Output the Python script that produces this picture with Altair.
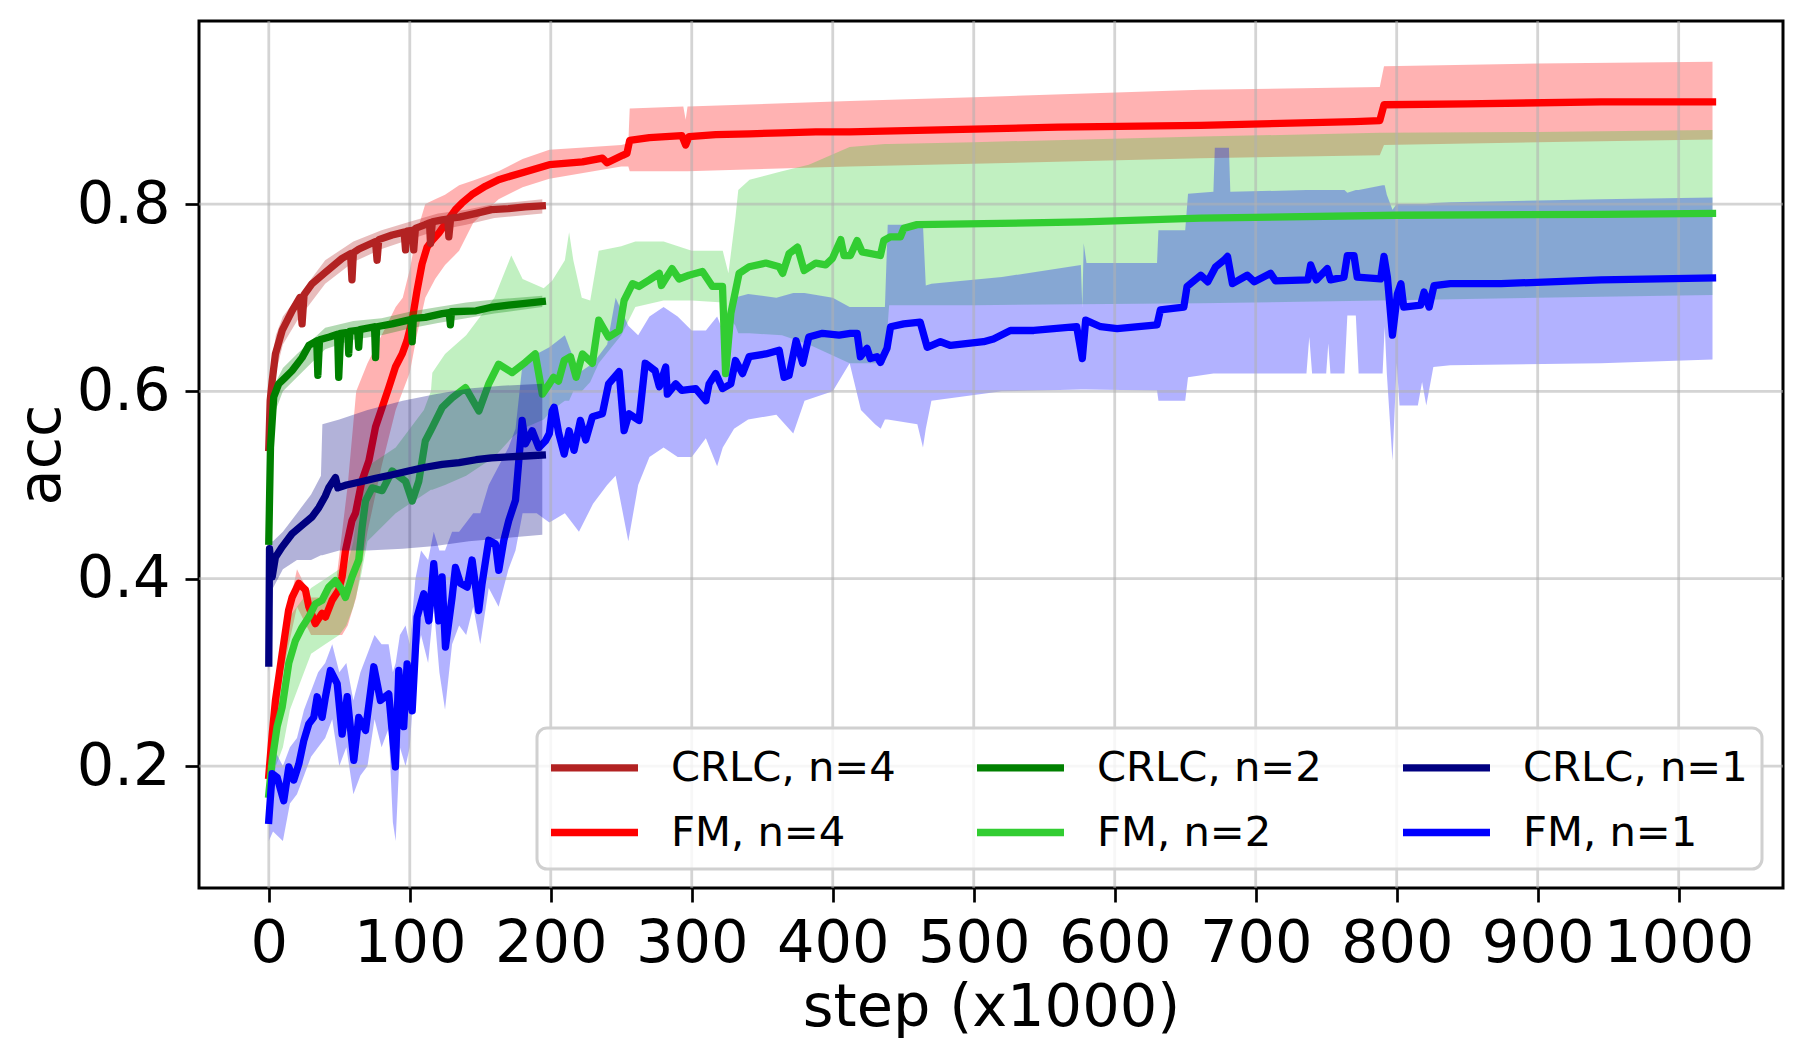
import altair as alt
import pandas as pd

# ---------------- data ----------------
# legend order (column-major fill): col1 n=4, col2 n=2, col3 n=1
SERIES = ["CRLC, n=4", "FM, n=4", "CRLC, n=2", "FM, n=2", "CRLC, n=1", "FM, n=1"]
COLORS = ["#b22222", "#ff0000", "#008000", "#32cd32", "#000080", "#0000ff"]
XTICKS = [0, 100, 200, 300, 400, 500, 600, 700, 800, 900, 1000]
YTICKS = [0.2, 0.4, 0.6, 0.8]

# FM, n=4 (mean line)
FM4_X = [0, 2.4, 4.7, 9.5, 14, 16.5, 21.3, 26, 28.4, 33, 37.8, 40.2, 44.9, 49.6, 52, 54.4, 59, 61.5, 66, 71,
         75.7, 80.4, 85.1, 89.8, 94.6, 98, 101.7, 105.2, 108.7, 112.3, 115.8, 120.6, 125.3, 132.4, 137, 144,
         153.7, 163, 181, 199, 222.5, 236.6, 240, 251, 254, 256, 270, 293, 295.7, 298, 317, 341, 364, 388,
         412, 500, 560, 661, 770, 788, 791, 850, 945, 1024]
FM4_Y = [0.19, 0.234, 0.27, 0.32, 0.366, 0.38, 0.395, 0.388, 0.37, 0.352, 0.363, 0.359, 0.377, 0.388, 0.402,
         0.43, 0.462, 0.47, 0.504, 0.526, 0.562, 0.583, 0.604, 0.626, 0.64, 0.654, 0.676, 0.708, 0.736, 0.754,
         0.761, 0.769, 0.779, 0.794, 0.801, 0.81, 0.819, 0.826, 0.834, 0.842, 0.845, 0.849, 0.844, 0.852,
         0.854, 0.868, 0.871, 0.873, 0.863, 0.872, 0.874, 0.875, 0.876, 0.877, 0.877, 0.88, 0.882, 0.884,
         0.888, 0.889, 0.906, 0.907, 0.909, 0.909]
# FM, n=4 (band)
FM4_BX = [0, 10, 20, 30, 40, 48, 52, 56, 62, 70, 80, 90, 95, 100, 105, 111, 118, 125, 135, 145, 163, 180,
          199, 250, 255, 256, 294, 295.7, 297, 412, 500, 661, 788, 791, 900, 1024]
FM4_LO = [0.17, 0.30, 0.37, 0.34, 0.34, 0.34, 0.34, 0.35, 0.38, 0.45, 0.52, 0.58, 0.60, 0.62, 0.66, 0.70,
          0.72, 0.735, 0.75, 0.78, 0.805, 0.818, 0.827, 0.84, 0.84, 0.835, 0.835, 0.835, 0.835, 0.84, 0.843,
          0.849, 0.852, 0.863, 0.866, 0.869]
FM4_HI = [0.21, 0.34, 0.41, 0.38, 0.38, 0.40, 0.45, 0.50, 0.60, 0.63, 0.66, 0.69, 0.70, 0.73, 0.77, 0.80,
          0.805, 0.81, 0.82, 0.825, 0.835, 0.848, 0.858, 0.863, 0.865, 0.902, 0.904, 0.89, 0.904, 0.91, 0.914,
          0.922, 0.925, 0.947, 0.95, 0.952]

# FM, n=2 (mean line)
FM2_X = [0, 2.4, 5.9, 9.5, 14.2, 18.9, 23.6, 28.4, 33, 37.8, 42.5, 47.3, 52, 54.4, 59, 63.8, 66.2, 68.6,
         73.3, 80.4, 87.5, 97, 101.7, 106.4, 111, 115.8, 123, 130, 139.5, 149, 156, 163, 172.6, 182, 189,
         194, 199, 202, 205.5, 209.5, 214, 218, 222.5, 229.5, 234, 241, 248.5, 252, 258, 262.6, 270, 277,
         278.5, 286, 291, 298, 307.6, 314.7, 321.8, 324, 327.7, 333.6, 340.7, 352.5, 362, 364.5, 369, 375,
         379.7, 388, 395, 399.8, 405.7, 408, 412.5, 417.3, 420.8, 433.8, 436.2, 441, 448, 450.4, 459.8, 507,
         578, 661, 800, 945, 1024]
FM2_Y = [0.17, 0.206, 0.242, 0.263, 0.31, 0.334, 0.348, 0.359, 0.373, 0.377, 0.391, 0.398, 0.388, 0.38,
         0.402, 0.42, 0.455, 0.483, 0.497, 0.494, 0.515, 0.504, 0.483, 0.504, 0.547, 0.561, 0.583, 0.593,
         0.604, 0.579, 0.608, 0.629, 0.62, 0.631, 0.64, 0.597, 0.608, 0.615, 0.611, 0.633, 0.637, 0.615,
         0.64, 0.63, 0.676, 0.658, 0.665, 0.697, 0.715, 0.712, 0.719, 0.726, 0.713, 0.731, 0.72, 0.724,
         0.728, 0.712, 0.712, 0.619, 0.683, 0.726, 0.733, 0.737, 0.733, 0.726, 0.747, 0.754, 0.729, 0.737,
         0.735, 0.742, 0.762, 0.745, 0.745, 0.761, 0.749, 0.745, 0.761, 0.765, 0.765, 0.774, 0.778, 0.779,
         0.781, 0.785, 0.788, 0.789, 0.79]
# FM, n=2 (band)
FM2_BX = [0, 5, 10, 15, 20, 25, 30, 40, 50, 55, 60, 65, 70, 90, 110, 115, 116, 125, 140, 160, 172, 180,
          195, 201, 210, 213, 216, 222, 228, 234, 250, 260, 280, 300, 322, 326, 331, 333, 341, 364, 383, 412,
          437, 440, 500, 661, 788, 900, 1024]
FM2_LO = [0.15, 0.20, 0.22, 0.26, 0.28, 0.30, 0.32, 0.33, 0.34, 0.35, 0.37, 0.40, 0.44, 0.47, 0.49, 0.495,
          0.495, 0.50, 0.51, 0.53, 0.55, 0.56, 0.57, 0.58, 0.59, 0.59, 0.60, 0.60, 0.61, 0.63, 0.66, 0.69,
          0.697, 0.697, 0.695, 0.68, 0.67, 0.662, 0.662, 0.66, 0.65, 0.63, 0.63, 0.692, 0.692, 0.694, 0.697,
          0.70, 0.703]
FM2_HI = [0.19, 0.27, 0.30, 0.36, 0.37, 0.38, 0.39, 0.40, 0.41, 0.41, 0.44, 0.50, 0.52, 0.54, 0.58, 0.60,
          0.62, 0.64, 0.66, 0.70, 0.745, 0.72, 0.71, 0.718, 0.74, 0.77, 0.74, 0.70, 0.697, 0.75, 0.755, 0.76,
          0.76, 0.75, 0.75, 0.726, 0.786, 0.815, 0.826, 0.835, 0.842, 0.861, 0.864, 0.864, 0.866, 0.872,
          0.876, 0.877, 0.879]

# FM, n=1 (mean line)
FM1_X = [0, 2.4, 5.9, 10.6, 14.2, 17.7, 21.3, 24.8, 28.4, 31.9, 34.3, 37.8, 40.2, 43.7, 48.5, 52, 55.6,
         60.3, 63.8, 68.6, 74.5, 79.2, 85.1, 89.8, 92.2, 95.7, 98.1, 101.7, 105.2, 109.9, 113.5, 117, 120.6,
         122.9, 125.3, 130, 132.4, 135.9, 140.7, 144.2, 148.9, 151.3, 156, 160.8, 163.1, 166.7, 170.2, 175,
         177, 179.7, 182, 186.8, 191.5, 196.2, 199, 201, 202.4, 205.7, 209.5, 213, 216.5, 221, 224.8, 229.5,
         236.6, 241, 248.5, 252, 255.5, 262.6, 267, 274, 277, 281.5, 282.7, 288.6, 293, 302.8, 310, 312.3,
         317, 321.8, 327.7, 331, 336, 340.7, 352.5, 362, 365.5, 369, 374, 378.7, 383, 392.7, 404.5, 412.5,
         417.3, 419.6, 424.3, 426.7, 431.4, 433.8, 438.5, 441, 450.4, 462, 467, 476.4, 483.5, 507, 514, 526,
         542.6, 573, 577, 579.4, 590, 601.7, 630, 632.4, 649, 651.3, 661, 666, 671.6, 677.5, 680, 683.5, 694,
         699, 710.6, 714, 737, 739, 743, 750.8, 753, 762.6, 765, 769.7, 772, 788.6, 791, 793.4, 797, 800.5,
         803, 805, 817, 819.4, 823, 826.5, 838, 874, 945, 1024]
FM1_Y = [0.142, 0.192, 0.188, 0.163, 0.199, 0.185, 0.202, 0.227, 0.245, 0.252, 0.274, 0.252, 0.274, 0.302,
         0.288, 0.234, 0.274, 0.206, 0.252, 0.238, 0.306, 0.27, 0.277, 0.199, 0.302, 0.242, 0.309, 0.259,
         0.359, 0.384, 0.355, 0.416, 0.355, 0.402, 0.327, 0.38, 0.412, 0.395, 0.391, 0.42, 0.366, 0.395,
         0.441, 0.437, 0.409, 0.441, 0.462, 0.484, 0.52, 0.569, 0.544, 0.558, 0.54, 0.547, 0.555, 0.579,
         0.583, 0.555, 0.533, 0.558, 0.537, 0.569, 0.548, 0.573, 0.576, 0.608, 0.621, 0.558, 0.576, 0.569,
         0.63, 0.622, 0.605, 0.626, 0.597, 0.608, 0.601, 0.603, 0.59, 0.608, 0.619, 0.603, 0.608, 0.633,
         0.619, 0.637, 0.64, 0.644, 0.615, 0.617, 0.654, 0.63, 0.658, 0.662, 0.66, 0.662, 0.662, 0.637,
         0.646, 0.635, 0.637, 0.631, 0.646, 0.669, 0.672, 0.674, 0.647, 0.653, 0.649, 0.653, 0.656, 0.665,
         0.665, 0.669, 0.635, 0.676, 0.669, 0.667, 0.671, 0.687, 0.69, 0.712, 0.724, 0.717, 0.733, 0.74,
         0.744, 0.715, 0.724, 0.717, 0.726, 0.718, 0.719, 0.735, 0.719, 0.731, 0.719, 0.722, 0.745, 0.745,
         0.722, 0.72, 0.744, 0.722, 0.66, 0.704, 0.715, 0.69, 0.692, 0.706, 0.69, 0.713, 0.715, 0.715,
         0.719, 0.721]
# FM, n=1 (band)
FM1_BX = [0, 3, 10, 15, 20, 25, 30, 35, 40, 45, 50, 55, 60, 65, 70, 75, 80, 85, 88, 90, 93, 97, 100, 104,
          108, 113, 117, 121, 125, 130, 135, 140, 145, 150, 156, 163, 170, 175, 180, 190, 199, 210, 220, 230,
          240, 246, 255, 262, 270, 280, 290, 300, 310, 318, 322, 330, 340, 360, 372, 380, 400, 412, 420, 430,
          434, 437, 439, 460, 464, 466, 470, 520, 576, 577, 578, 580, 630, 631, 650, 652, 670, 671, 681, 682,
          736, 738, 740, 750, 751.5, 753, 763, 765, 771, 773, 790, 791.5, 793, 797, 800, 802, 815, 818, 821,
          826, 838, 945, 1024]
FM1_LO = [0.12, 0.13, 0.12, 0.16, 0.17, 0.19, 0.21, 0.22, 0.23, 0.25, 0.20, 0.22, 0.17, 0.19, 0.20, 0.25,
          0.22, 0.24, 0.14, 0.12, 0.22, 0.20, 0.22, 0.31, 0.34, 0.31, 0.37, 0.30, 0.26, 0.33, 0.35, 0.34,
          0.37, 0.33, 0.39, 0.37, 0.41, 0.43, 0.47, 0.47, 0.46, 0.47, 0.45, 0.48, 0.50, 0.51, 0.44, 0.50,
          0.53, 0.54, 0.53, 0.53, 0.55, 0.52, 0.54, 0.56, 0.57, 0.575, 0.555, 0.59, 0.60, 0.63, 0.58, 0.565,
          0.56, 0.57, 0.57, 0.565, 0.54, 0.56, 0.59, 0.60, 0.602, 0.602, 0.602, 0.602, 0.601, 0.59, 0.59,
          0.615, 0.619, 0.619, 0.619, 0.619, 0.619, 0.658, 0.619, 0.619, 0.651, 0.619, 0.619, 0.681, 0.681,
          0.619, 0.619, 0.669, 0.619, 0.526, 0.63, 0.585, 0.585, 0.61, 0.585, 0.626, 0.628, 0.630, 0.634]
FM1_HI = [0.16, 0.22, 0.20, 0.22, 0.23, 0.26, 0.28, 0.30, 0.31, 0.33, 0.30, 0.31, 0.27, 0.30, 0.32, 0.34,
          0.33, 0.33, 0.30, 0.31, 0.34, 0.35, 0.33, 0.40, 0.43, 0.42, 0.45, 0.43, 0.43, 0.45, 0.45, 0.46,
          0.47, 0.47, 0.50, 0.52, 0.54, 0.56, 0.63, 0.64, 0.647, 0.66, 0.62, 0.63, 0.65, 0.70, 0.67, 0.66,
          0.68, 0.69, 0.68, 0.665, 0.665, 0.68, 0.665, 0.70, 0.704, 0.70, 0.705, 0.705, 0.70, 0.69, 0.69,
          0.69, 0.69, 0.69, 0.778, 0.778, 0.778, 0.713, 0.715, 0.722, 0.735, 0.69, 0.758, 0.737, 0.737,
          0.772, 0.772, 0.811, 0.813, 0.86, 0.86, 0.813, 0.815, 0.815, 0.815, 0.815, 0.815, 0.815, 0.815,
          0.812, 0.815, 0.815, 0.82, 0.82, 0.81, 0.794, 0.80, 0.80, 0.80, 0.80, 0.80, 0.801, 0.802, 0.805,
          0.807]

# CRLC, n=4
C4_X = [0, 1, 2.4, 4.7, 9.5, 16.5, 22, 23.6, 25, 30.7, 40, 52, 58, 59, 60, 64, 75.7, 76.8, 78, 87.5, 96, 97,
        98, 102, 102.8, 104, 111, 114, 114.7, 116, 123, 127, 127.7, 129, 135, 147, 158, 170, 182, 194]
C4_Y = [0.54, 0.59, 0.611, 0.64, 0.665, 0.686, 0.70, 0.672, 0.703, 0.715, 0.727, 0.742, 0.747, 0.719, 0.748,
        0.752, 0.76, 0.74, 0.762, 0.767, 0.770, 0.751, 0.771, 0.772, 0.751, 0.774, 0.778, 0.780, 0.758, 0.781,
        0.783, 0.784, 0.765, 0.785, 0.786, 0.79, 0.794, 0.795, 0.797, 0.798]
C4_BX = [0, 2, 5, 10, 20, 40, 60, 80, 100, 120, 140, 160, 194]
C4_LO = [0.50, 0.58, 0.62, 0.65, 0.675, 0.715, 0.738, 0.752, 0.762, 0.772, 0.778, 0.785, 0.79]
C4_HI = [0.56, 0.63, 0.66, 0.68, 0.70, 0.74, 0.760, 0.772, 0.781, 0.79, 0.794, 0.80, 0.805]

# CRLC, n=2
C2_X = [0, 1.2, 3.5, 7, 11.8, 16.5, 23.6, 28.4, 34, 34.8, 36, 43, 48.8, 49.6, 51, 56, 56.7, 57.5, 63, 63.8,
        64.6, 75, 75.7, 76.5, 87.5, 99, 101, 101.7, 102.5, 111, 123, 128, 128.8, 129.6, 147, 158.6, 170, 182,
        194]
C2_Y = [0.44, 0.54, 0.594, 0.608, 0.615, 0.622, 0.636, 0.649, 0.654, 0.617, 0.655, 0.658, 0.661, 0.615,
        0.662, 0.663, 0.64, 0.664, 0.665, 0.647, 0.666, 0.669, 0.636, 0.669, 0.672, 0.676, 0.677, 0.653,
        0.678, 0.679, 0.683, 0.684, 0.671, 0.685, 0.686, 0.69, 0.692, 0.694, 0.696]
C2_BX = [0, 2, 5, 10, 20, 40, 60, 80, 100, 120, 140, 160, 194]
C2_LO = [0.42, 0.52, 0.58, 0.60, 0.615, 0.645, 0.655, 0.66, 0.667, 0.673, 0.678, 0.683, 0.69]
C2_HI = [0.46, 0.57, 0.61, 0.625, 0.64, 0.668, 0.675, 0.678, 0.685, 0.69, 0.695, 0.698, 0.702]

# CRLC, n=1
C1_X = [0, 0.5, 2.4, 4.7, 9.5, 16.5, 23.6, 30.7, 35.5, 40, 42.5, 47.3, 49, 55, 63.8, 75, 87.5, 99, 111, 123,
        135, 147, 158, 170, 182, 194]
C1_Y = [0.31, 0.432, 0.402, 0.423, 0.434, 0.448, 0.457, 0.466, 0.476, 0.488, 0.497, 0.508, 0.497, 0.500,
        0.503, 0.507, 0.511, 0.515, 0.519, 0.522, 0.524, 0.527, 0.529, 0.530, 0.531, 0.532]
C1_BX = [0, 3, 10, 20, 30, 37, 38, 50, 70, 95, 118, 142, 165, 194]
C1_LO = [0.30, 0.39, 0.41, 0.42, 0.42, 0.425, 0.425, 0.43, 0.43, 0.432, 0.435, 0.44, 0.443, 0.447]
C1_HI = [0.44, 0.44, 0.45, 0.47, 0.49, 0.51, 0.565, 0.57, 0.58, 0.59, 0.597, 0.603, 0.606, 0.608]

# ---------------- styling ----------------
FONT = "DejaVu Sans"
W, H = 1584, 867
LW = 7.3
XS = alt.Scale(domain=[-49.5, 1074], nice=False, zero=False)
YS = alt.Scale(domain=[0.0698, 0.9954], nice=False, zero=False)
CS = alt.Scale(domain=SERIES, range=COLORS)

XAXIS = alt.Axis(values=XTICKS, format="d", title="step (x1000)", grid=False, domain=False,
                 tickSize=14, tickWidth=2.7, tickColor="black",
                 labelFont=FONT, labelFontSize=59, labelColor="black", labelPadding=12,
                 labelFlush=False, labelOverlap=False,
                 titleFont=FONT, titleFontSize=59, titleFontWeight="normal", titleColor="black",
                 titleX=W / 2, titleY=137, titleBaseline="alphabetic", titleAlign="center")
YAXIS = alt.Axis(values=YTICKS, format=".1f", title="acc", grid=False, domain=False,
                 tickSize=14, tickWidth=2.7, tickColor="black",
                 labelFont=FONT, labelFontSize=59, labelColor="black", labelPadding=15,
                 labelFlush=False, labelOverlap=False,
                 titleFont=FONT, titleFontSize=59, titleFontWeight="normal", titleColor="black",
                 titleAngle=270, titleX=-140, titleY=H / 2, titleBaseline="alphabetic",
                 titleAlign="center")
LEGEND = alt.Legend(title=None, orient="none", legendX=338, legendY=707, columns=3,
                    symbolType="M-2,0H2", symbolSize=1892, symbolStrokeWidth=LW, symbolOffset=18,
                    labelFont=FONT, labelFontSize=41.7, labelColor="black", labelOffset=51,
                    labelLimit=400, padding=14, rowPadding=17, columnPadding=66, gridAlign="all",
                    strokeColor="#d0d0d0", cornerRadius=10,
                    fillColor="rgba(255,255,255,0.8)")

X = alt.X("step:Q", scale=XS, axis=XAXIS)


def band(xs, lo, hi, color):
    df = pd.DataFrame({"step": xs, "lo": lo, "hi": hi})
    return alt.Chart(df).mark_area(color=color, opacity=0.3).encode(
        x=X, y=alt.Y("lo:Q", scale=YS, axis=YAXIS), y2="hi:Q")


def line(name, xs, ys):
    df = pd.DataFrame({"step": xs, "acc": ys, "series": name})
    return alt.Chart(df).mark_line(strokeWidth=LW, strokeJoin="round", strokeCap="square").encode(
        x=X, y=alt.Y("acc:Q", scale=YS, axis=YAXIS),
        color=alt.Color("series:N", scale=CS, legend=LEGEND))


grid_x = alt.Chart(pd.DataFrame({"t": XTICKS})).mark_rule(
    color="#b0b0b0", opacity=0.55, strokeWidth=2.8).encode(x=alt.X("t:Q", scale=XS, axis=XAXIS))
grid_y = alt.Chart(pd.DataFrame({"t": YTICKS})).mark_rule(
    color="#b0b0b0", opacity=0.55, strokeWidth=2.8).encode(y=alt.Y("t:Q", scale=YS, axis=YAXIS))

layers = [
    band(FM4_BX, FM4_LO, FM4_HI, "#ff0000"),
    band(FM2_BX, FM2_LO, FM2_HI, "#32cd32"),
    band(FM1_BX, FM1_LO, FM1_HI, "#0000ff"),
    grid_x, grid_y,
    line("FM, n=4", FM4_X, FM4_Y),
    line("FM, n=2", FM2_X, FM2_Y),
    line("FM, n=1", FM1_X, FM1_Y),
    band(C4_BX, C4_LO, C4_HI, "#b22222"),
    band(C2_BX, C2_LO, C2_HI, "#008000"),
    band(C1_BX, C1_LO, C1_HI, "#000080"),
    line("CRLC, n=4", C4_X, C4_Y),
    line("CRLC, n=2", C2_X, C2_Y),
    line("CRLC, n=1", C1_X, C1_Y),
]

chart = alt.layer(*layers).properties(
    width=W, height=H,
    autosize=alt.AutoSizeParams(type="none"),
    padding={"left": 191, "top": 13, "right": 9, "bottom": 150},
).configure(font=FONT).configure_view(stroke="black", strokeWidth=3).configure_legend(strokeWidth=3)

chart.save("out.html", embed_options={"renderer": "svg", "actions": False})
